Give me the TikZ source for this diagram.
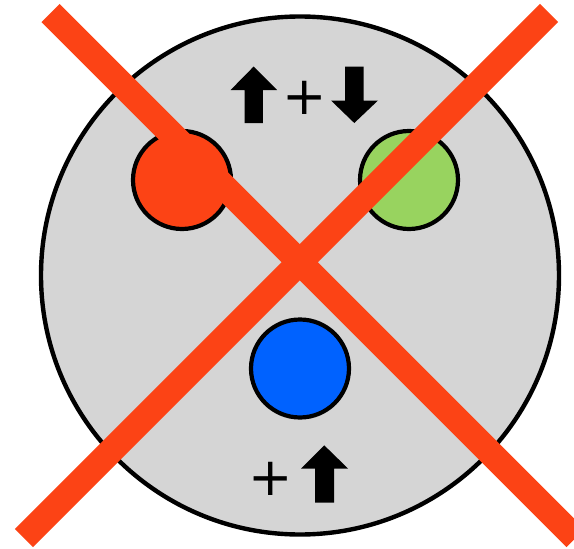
\documentclass[tikz,border=0pt]{standalone}
\usepackage{fontspec}
\newfontfamily\plusfont{DejaVu Sans}
\definecolor{xred}{HTML}{FC4315}
\definecolor{dotgreen}{HTML}{98D35F}
\definecolor{dotblue}{HTML}{0062FF}
\definecolor{disc}{HTML}{D5D5D5}
\tikzset{
  dot/.style={circle, draw=black, line width=4.2pt, minimum size=98pt, inner sep=0pt},
  plussign/.style={inner sep=0pt, font=\plusfont\fontsize{53}{53}\selectfont},
  crossbar/.style={draw=xred, line width=25.5pt, line cap=butt},
  arrowshape/.style={fill=black, draw=none}
}
\begin{document}
\begin{tikzpicture}[x=1pt,y=-1pt]
\useasboundingbox (0,0) rectangle (574,549);
\fill[white] (0,0) rectangle (574,549);
% big disc
\node[circle, draw=black, fill=disc, line width=4.4pt, minimum size=518pt, inner sep=0pt] (disc) at (300,275.5) {};
% coloured dots
\node[dot, fill=xred] (red) at (182,180) {};
\node[dot, fill=dotgreen] (green) at (409,180) {};
\node[dot, fill=dotblue] (blue) at (300,368.5) {};
% top arrows and plus
\fill[arrowshape] (253.7,66.5) -- (277,90) -- (262.8,90) -- (262.8,123) -- (244.5,123) -- (244.5,90) -- (230.6,90) -- cycle;
\node[plussign] (plustop) at (304.3,98.3) {+};
\fill[arrowshape] (354.3,123) -- (378,100.5) -- (363.5,100.5) -- (363.5,66.5) -- (345,66.5) -- (345,100.5) -- (331,100.5) -- cycle;
% bottom plus and arrow
\node[plussign] (plusbot) at (270.7,479) {+};
\fill[arrowshape] (324.3,445.4) -- (348,468.5) -- (334,468.5) -- (334,502.5) -- (315,502.5) -- (315,468.5) -- (301,468.5) -- cycle;
% red cross
\coordinate (a1) at (50.5,13);
\coordinate (a2) at (575.5,538);
\coordinate (b1) at (549,13);
\coordinate (b2) at (24,538);
\draw[crossbar] (a1) -- (a2);
\draw[crossbar] (b1) -- (b2);
\end{tikzpicture}
\end{document}
